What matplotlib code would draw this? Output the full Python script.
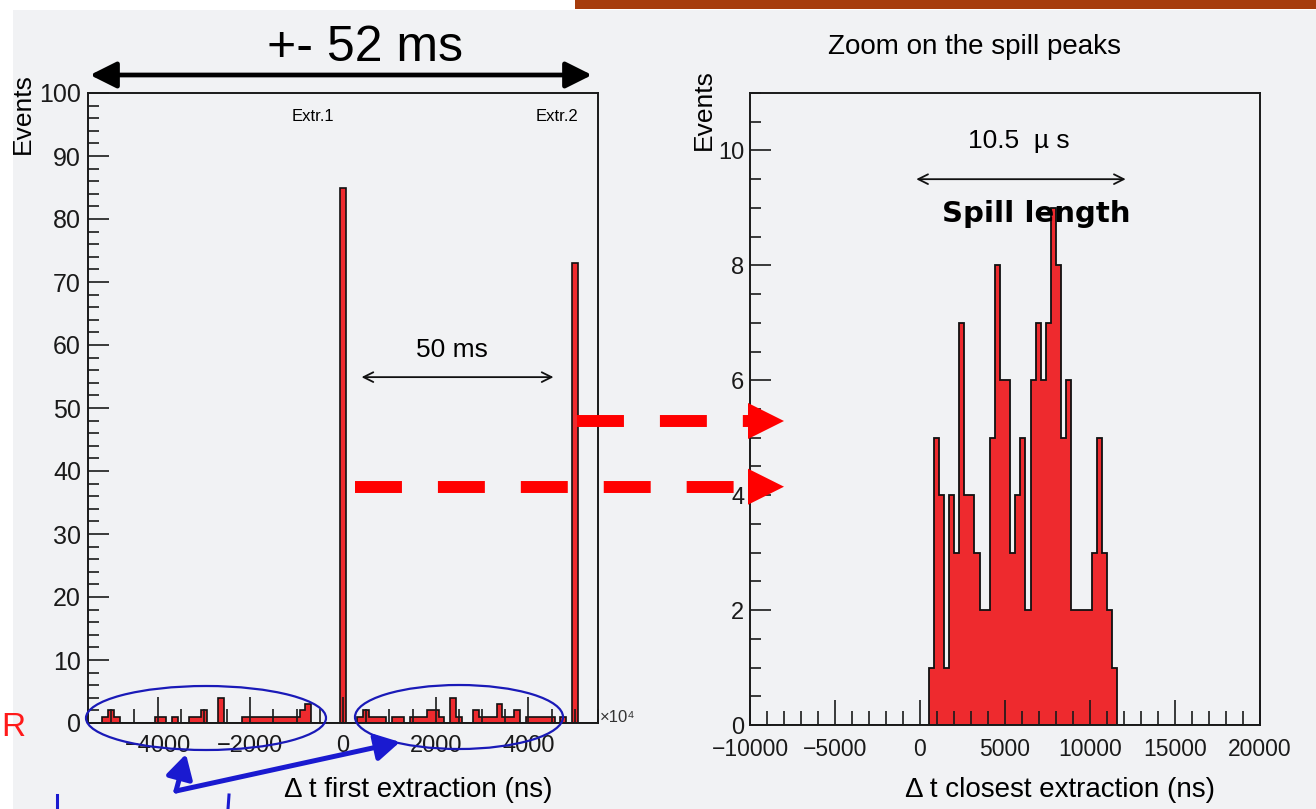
import numpy as np
import matplotlib
matplotlib.use('Agg')
import matplotlib.pyplot as plt
from matplotlib.patches import Ellipse, Rectangle, Polygon, FancyArrowPatch
from matplotlib.lines import Line2D
from matplotlib.ticker import MultipleLocator

plt.rcParams['font.family'] = ['Liberation Sans', 'DejaVu Sans']
plt.rcParams['lines.scale_dashes'] = False

W, H = 1316, 809

# ---------------- data ----------------
# Left histogram: Δt first extraction (units of 1e4 ns), bin width 125
left_bin_width = 125
left_xlim = (-5500, 5500)
left_centers = [-5125, -5000, -4875, -4000, -3875, -3625, -3250, -3125, -3000, -2625, -2125,
                -2000, -1875, -1750, -1625, -1500, -1375, -1250, -1125, -1000, -875, -750,
                0,
                375, 500, 625, 750, 875, 1125, 1250, 1500, 1625, 1750, 1875, 2000, 2125,
                2375, 2500, 2875, 3000, 3125, 3250, 3375, 3500, 3625, 3750,
                4000, 4125, 4250, 4375, 4500, 4750, 5000]
left_counts = [1, 2, 1, 1, 1, 1, 1, 1, 2, 4, 1,
               1, 1, 1, 1, 1, 1, 1, 1, 1, 2, 3,
               85,
               1, 2, 1, 1, 1, 1, 1, 1, 1, 1, 2, 2, 1,
               4, 1, 2, 1, 1, 1, 3, 1, 1, 2,
               1, 1, 1, 1, 1, 1, 73]
left_xticks = [-4000, -2000, 0, 2000, 4000]
left_yticks = [0, 10, 20, 30, 40, 50, 60, 70, 80, 90, 100]

# Right histogram: Δt closest extraction (ns), 100 bins from -10000 to 20000
right_xlim = (-10000, 20000)
right_nbins = 100
right_first_bin = 500
right_counts = [1, 5, 4, 1, 4, 3, 7, 4, 4, 3, 2, 2, 5, 8, 6, 6, 3, 4, 5, 2,
                6, 7, 6, 7, 9, 8, 5, 6, 2, 2, 2, 2, 3, 5, 3, 2, 1]
right_xticks = [-10000, -5000, 0, 5000, 10000, 15000, 20000]
right_yticks = [0, 2, 4, 6, 8, 10]

RED = '#ee2a2e'
BG = '#f1f2f4'

fig = plt.figure(figsize=(W / 100, H / 100), dpi=100)
fig.patch.set_facecolor(BG)


def fx(x):
    return x / W


def fy(y):
    return 1 - y / H


def style_axes(ax):
    ax.set_facecolor(BG)
    for s in ax.spines.values():
        s.set_linewidth(1.4)
        s.set_color('#1a1a1a')
    ax.tick_params(which='both', direction='in', top=False, right=False,
                   colors='#1a1a1a', width=1.2)


# ---------------- left panel ----------------
ax1 = fig.add_axes([fx(88), fy(723), fx(510), 630 / H])
style_axes(ax1)
edges1 = np.arange(left_xlim[0] - left_bin_width / 2, left_xlim[1] + left_bin_width, left_bin_width)
ax1.hist(left_centers, bins=edges1, weights=left_counts, histtype='stepfilled',
         facecolor=RED, edgecolor='#111111', linewidth=1.2)
ax1.set_xlim(*left_xlim)
ax1.set_ylim(0, 100)
ax1.set_xticks(left_xticks)
ax1.set_yticks(left_yticks)
ax1.xaxis.set_minor_locator(MultipleLocator(500))
ax1.yaxis.set_minor_locator(MultipleLocator(2))
ax1.tick_params(axis='x', which='major', length=19, pad=9, labelsize=17)
ax1.tick_params(axis='x', which='minor', length=10)
ax1.tick_params(axis='y', which='major', length=15, pad=5, labelsize=18)
ax1.tick_params(axis='y', which='minor', length=8)

ax1.text(0.441, 0.962, 'Extr.1', transform=ax1.transAxes, ha='center', va='center', fontsize=12)
ax1.text(0.92, 0.962, 'Extr.2', transform=ax1.transAxes, ha='center', va='center', fontsize=12)
ax1.text(0.714, 0.592, '50 ms', transform=ax1.transAxes, ha='center', va='center', fontsize=19)
ax1.annotate('', xy=(4540, 54.9), xytext=(400, 54.9),
             arrowprops=dict(arrowstyle='<->,head_length=0.5,head_width=0.25',
                             lw=1.3, color='#111111', shrinkA=0, shrinkB=0, mutation_scale=14))

# ---------------- right panel ----------------
ax2 = fig.add_axes([fx(750), fy(725), fx(510), 632 / H])
style_axes(ax2)
edges2 = np.linspace(right_xlim[0], right_xlim[1], right_nbins + 1)
bw2 = edges2[1] - edges2[0]
centers2 = right_first_bin + bw2 * (np.arange(len(right_counts)) + 0.5)
ax2.hist(centers2, bins=edges2, weights=right_counts, histtype='stepfilled',
         facecolor=RED, edgecolor='#111111', linewidth=1.3)
ax2.set_xlim(*right_xlim)
ax2.set_ylim(0, 11)
ax2.set_xticks(right_xticks)
ax2.set_yticks(right_yticks)
ax2.xaxis.set_minor_locator(MultipleLocator(1000))
ax2.yaxis.set_minor_locator(MultipleLocator(0.5))
ax2.tick_params(axis='x', which='major', length=18, pad=9, labelsize=16.5)
ax2.tick_params(axis='x', which='minor', length=10)
ax2.tick_params(axis='y', which='major', length=15, pad=4, labelsize=17)
ax2.tick_params(axis='y', which='minor', length=8)

ax2.text(5824, 10.17, '10.5  \u00b5 s', ha='center', va='center', fontsize=19)
ax2.annotate('', xy=(12100, 9.5), xytext=(-220, 9.5),
             arrowprops=dict(arrowstyle='<->,head_length=0.5,head_width=0.25',
                             lw=1.3, color='#111111', shrinkA=0, shrinkB=0, mutation_scale=14))
ax2.text(6820, 8.89, 'Spill length', ha='center', va='center', fontsize=21,
         fontweight='bold', family=['DejaVu Sans'], zorder=10)

# ---------------- figure-level texts ----------------
fig.text(fx(975), fy(47), 'Zoom on the spill peaks', ha='center', va='center', fontsize=20)
fig.text(fx(418), fy(790), '\u0394 t first extraction (ns)', ha='center', va='center', fontsize=20)
fig.text(fx(1060), fy(790), '\u0394 t closest extraction (ns)', ha='center', va='center', fontsize=20)
fig.text(fx(23), fy(73), 'Events', rotation=90, ha='center', va='top', fontsize=19, zorder=3)
fig.text(fx(704), fy(69), 'Events', rotation=90, ha='center', va='top', fontsize=19, zorder=3)
fig.text(fx(600), fy(718), '\u00d710\u2074', ha='left', va='center', fontsize=12,
         color='#333333')
fig.text(fx(365), fy(48), '+- 52 ms', ha='center', va='center', fontsize=36,
         family=['Liberation Sans', 'DejaVu Sans'], zorder=6)

# ---------------- annotations ----------------
# top black double arrow
fig.add_artist(FancyArrowPatch(
    (fx(90), fy(75)), (fx(592), fy(75)), transform=fig.transFigure,
    arrowstyle='<|-|>,head_length=0.8,head_width=0.4', mutation_scale=20,
    lw=3.4, color='black', shrinkA=0, shrinkB=0, zorder=6))

# red dashed arrows
for (x0, y0) in [(355, 486.7), (577, 421)]:
    ln = Line2D([fx(x0), fx(748)], [fy(y0), fy(y0)], transform=fig.transFigure,
                color='#ff0000', lw=8.6, dashes=(33.8, 25.9),
                dash_capstyle='butt', zorder=6)
    fig.add_artist(ln)
    head = Polygon([(fx(748), fy(y0 - 18)), (fx(748), fy(y0 + 18)), (fx(784), fy(y0))],
                   closed=True, transform=fig.transFigure, facecolor='#ff0000',
                   edgecolor='none', zorder=6)
    fig.add_artist(head)

# blue ellipses
for (cx, cy, w, h) in [(206, 718, 240, 64), (459, 717, 208, 64)]:
    fig.add_artist(Ellipse((fx(cx), fy(cy)), w / W, h / H, transform=fig.transFigure,
                           fill=False, edgecolor='#1a1ab8', lw=1.6, zorder=6))

# blue arrows
for tip in [(186, 754), (400, 742)]:
    fig.add_artist(FancyArrowPatch(
        (fx(176), fy(791)), (fx(tip[0]), fy(tip[1])), transform=fig.transFigure,
        arrowstyle='-|>,head_length=0.8,head_width=0.45', mutation_scale=18,
        lw=3.6, color='#1a1ad0', shrinkA=0, shrinkB=0, zorder=6))

# blue stroke marks at the bottom
for xs in [(57, 57), (229, 228)]:
    fig.add_artist(Line2D([fx(xs[0]), fx(xs[1])], [fy(795), fy(809)], transform=fig.transFigure,
                          color='#1a1ad0', lw=2.2, zorder=6))

# white margins and brown header strip
fig.add_artist(Rectangle((0, 0), fx(13), 1, transform=fig.transFigure,
                         facecolor='white', edgecolor='none', zorder=5))
fig.add_artist(Rectangle((0, fy(10)), 1, 10 / H, transform=fig.transFigure,
                         facecolor='white', edgecolor='none', zorder=5))
fig.add_artist(Rectangle((fx(575), fy(9)), fx(741), 9 / H, transform=fig.transFigure,
                         facecolor='#a63c0c', edgecolor='none', zorder=5))

fig.text(fx(1), fy(728), 'R', ha='left', va='center', fontsize=24, color='#ff1a1a',
         zorder=7)

fig.savefig('out.png', dpi=100, facecolor=BG)
